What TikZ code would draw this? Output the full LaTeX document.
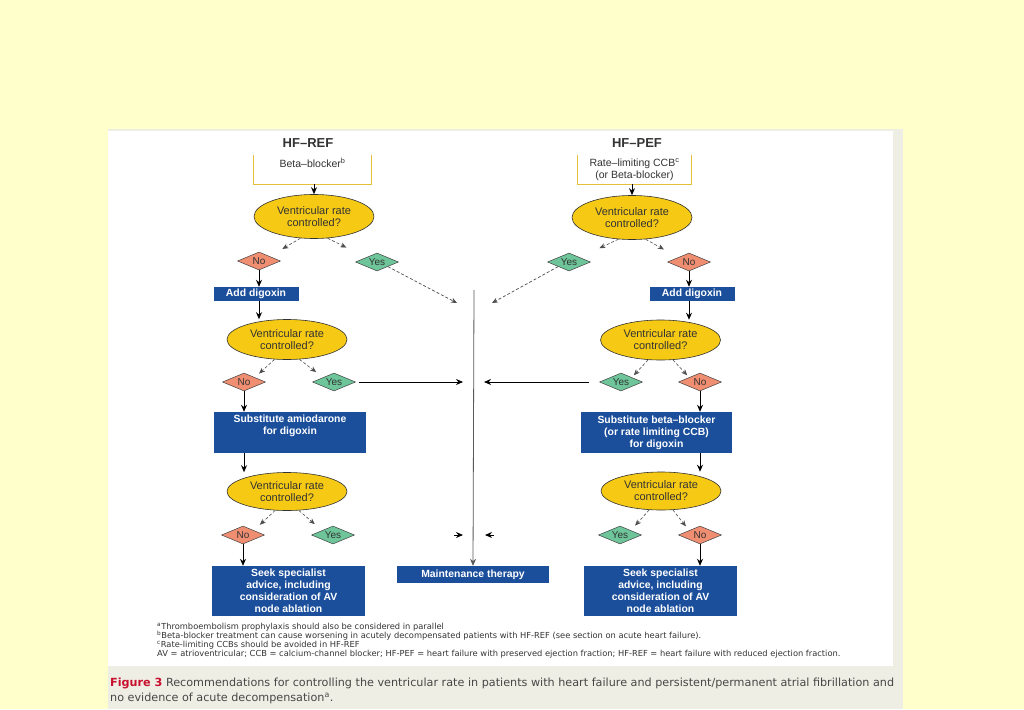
\documentclass[tikz,border=0pt]{standalone}
\usepackage{fontspec}
\setmainfont{Liberation Sans}
\newfontfamily\notefont{DejaVu Sans}
\usetikzlibrary{shapes.geometric,arrows.meta,calc}
\definecolor{bgyellow}{HTML}{FFFFCC}
\definecolor{panelgrey}{HTML}{EEEEE4}
\definecolor{ellfill}{HTML}{F6C915}
\definecolor{nofill}{HTML}{F08E72}
\definecolor{yesfill}{HTML}{6EC59A}
\definecolor{boxblue}{HTML}{1B4F9C}
\definecolor{boxgold}{HTML}{E3C13B}
\definecolor{txtdark}{HTML}{333333}
\definecolor{figred}{HTML}{C8102E}
\tikzset{
  ell/.style={ellipse, draw=black!80, line width=0.6pt, fill=ellfill, inner sep=0pt,
    minimum width=120pt, minimum height=42pt, align=center, text=txtdark,
    font=\fontsize{11}{12}\selectfont},
  dno/.style={diamond, draw=black!75, line width=0.5pt, fill=nofill, inner sep=0pt,
    minimum width=43pt, minimum height=18pt, text=txtdark, font=\fontsize{10}{12}\selectfont},
  dyes/.style={dno, fill=yesfill},
  bluebox/.style={rectangle, fill=boxblue, text=white, inner sep=0pt, align=center,
    font=\bfseries\fontsize{10.4}{12}\selectfont},
  openbox/.style={rectangle, inner sep=0pt, align=center, text=txtdark,
    font=\fontsize{10.5}{12}\selectfont},
  hdr/.style={font=\bfseries\fontsize{13}{15}\selectfont, text=txtdark},
  arr/.style={-{Stealth[length=7pt,width=6pt]}, line width=0.9pt, black},
  darr/.style={-{Stealth[length=6pt,width=5pt]}, line width=0.6pt, black!70, densely dashed},
  garr/.style={-{Stealth[length=7pt,width=6pt]}, line width=0.8pt, black!65},
  foot/.style={anchor=west, inner sep=0pt, text=txtdark, font=\notefont\fontsize{8.3}{9}\selectfont},
  capt/.style={anchor=west, inner sep=0pt, text=txtdark!90, font=\notefont\fontsize{11.2}{13}\selectfont},
}
\newcommand{\dlab}[1]{\makebox[0pt]{\raisebox{-0.36em}[0pt][0pt]{#1}}}
\begin{document}
\begin{tikzpicture}[x=1pt,y=-1pt]
\useasboundingbox (0,0) rectangle (1024,709);
\fill[bgyellow] (0,0) rectangle (1024,709);
\fill[panelgrey] (108,129) rectangle (903,709);
\fill[white] (108,131) rectangle (893,666);

% headers
\node[hdr] (hl) at (308,143) {HF--REF};
\node[hdr] (hr) at (637,143) {HF--PEF};

% top boxes (open at top)
\node[openbox, minimum width=117pt, minimum height=29pt] (bl) at (312.5,169.5) {};
\node[openbox, anchor=north] (blt) at (312.5,158) {Beta--blocker\textsuperscript{b}};
\draw[boxgold, line width=0.9pt] (bl.north west) -- (bl.south west) -- (bl.south east) -- (bl.north east);
\node[openbox, minimum width=113pt, minimum height=29pt] (br) at (634.5,169.5) {};
\node[openbox, anchor=north] (brt) at (634.5,158) {Rate--limiting CCB\textsuperscript{c}\\(or Beta-blocker)};
\draw[boxgold, line width=0.9pt] (br.north west) -- (br.south west) -- (br.south east) -- (br.north east);

% ellipses
\node[ell, minimum height=44pt] (e1l) at (314,216.5) {Ventricular rate\\controlled?};
\node[ell, minimum height=44pt] (e1r) at (632,217.5) {Ventricular rate\\controlled?};
\node[ell, minimum height=40pt] (e2l) at (287,339.5) {Ventricular rate\\controlled?};
\node[ell, minimum height=40pt] (e2r) at (660.5,340) {Ventricular rate\\controlled?};
\node[ell, minimum height=38pt] (e3l) at (287,491.5) {Ventricular rate\\controlled?};
\node[ell, minimum height=38pt] (e3r) at (661,491) {Ventricular rate\\controlled?};

% diamonds
\node[dno]  (n1l) at (259,261) {\dlab{No}};
\node[dyes] (y1l) at (377,262) {\dlab{Yes}};
\node[dyes] (y1r) at (569,262) {\dlab{Yes}};
\node[dno]  (n1r) at (689,262) {\dlab{No}};
\node[dno]  (n2l) at (244,382) {\dlab{No}};
\node[dyes] (y2l) at (334,382) {\dlab{Yes}};
\node[dyes] (y2r) at (621,382) {\dlab{Yes}};
\node[dno]  (n2r) at (700,382) {\dlab{No}};
\node[dno]  (n3l) at (243,535) {\dlab{No}};
\node[dyes] (y3l) at (333,535) {\dlab{Yes}};
\node[dyes] (y3r) at (620,535) {\dlab{Yes}};
\node[dno]  (n3r) at (700,535) {\dlab{No}};

% blue boxes
\node[bluebox, minimum width=85pt, minimum height=14pt] (adl) at (256,294) {Add digoxin};
\node[bluebox, minimum width=85pt, minimum height=14pt] (adr) at (692,294) {Add digoxin};
\node[bluebox, minimum width=152pt, minimum height=41pt] (sul) at (290,432.5) {Substitute amiodarone\\for digoxin\\\strut};
\node[bluebox, minimum width=151pt, minimum height=41pt] (sur) at (656.5,432.5) {Substitute beta--blocker\\(or rate limiting CCB)\\for digoxin};
\node[bluebox, minimum width=153pt, minimum height=50pt] (skl) at (288.5,591) {Seek specialist\\advice, including\\consideration of AV\\node ablation};
\node[bluebox, minimum width=153pt, minimum height=50pt] (skr) at (660.5,591) {Seek specialist\\advice, including\\consideration of AV\\node ablation};
\node[bluebox, minimum width=152pt, minimum height=17pt] (mt) at (473,574.5) {Maintenance therapy};

% coordinates near the centre line
\coordinate (ltop) at (474,290);
\coordinate (t1l) at (457,303);
\coordinate (t1r) at (492,303);
\coordinate (t2l) at (463,382);
\coordinate (t2r) at (484,382);
\coordinate (s3l) at (454,535);
\coordinate (t3l) at (463,535);
\coordinate (s3r) at (494,535);
\coordinate (t3r) at (485,535);

% main arrows
\draw[arr] (bl.south -| e1l.north) -- (e1l.north);
\draw[arr] (br.south -| e1r.north) -- (e1r.north);
\draw[arr] (n1l.south) -- (n1l.south |- adl.north);
\draw[arr] (n1r.south) -- (n1r.south |- adr.north);
\draw[arr] (adl.south -| n1l.south) -- (n1l.south |- e2l.north);
\draw[arr] (adr.south -| n1r.south) -- (n1r.south |- e2r.north);
\draw[arr] (n2l.south) -- (n2l.south |- sul.north);
\draw[arr] (n2r.south) -- (n2r.south |- sur.north);
\draw[arr] (sul.south -| n2l.south) -- (n2l.south |- e3l.north);
\draw[arr] (sur.south -| n2r.south) -- (n2r.south |- e3r.north);
\draw[arr] (n3l.south) -- (n3l.south |- skl.north);
\draw[arr] (n3r.south) -- (n3r.south |- skr.north);

% dashed short arrows from ellipses to diamonds
\foreach \e/\a/\b in {e1l/n1l/y1l, e1r/y1r/n1r, e2l/n2l/y2l, e2r/y2r/n2r, e3l/n3l/y3l, e3r/y3r/n3r}{
  \draw[darr] (\e.238) -- ($(\e.238)!21pt!(\a.north east)$);
  \draw[darr] (\e.302) -- ($(\e.302)!21pt!(\b.north west)$);
}

% yes arrows to centre
\draw[darr, line width=0.7pt] (y1l.south east) -- (t1l);
\draw[darr, line width=0.7pt] (y1r.south west) -- (t1r);
\draw[arr, line width=0.8pt, shorten <=3pt] (y2l.east) -- (t2l);
\draw[arr, line width=0.8pt, shorten <=10pt] (y2r.west) -- (t2r);
\draw[arr] (s3l) -- (t3l);
\draw[arr] (s3r) -- (t3r);
\draw[garr] (ltop) -- (mt.north);

% footnotes
\node[foot] (f1) at (157,627) {\textsuperscript{a}Thromboembolism prophylaxis should also be considered in parallel};
\node[foot] (f2) at (157,636) {\textsuperscript{b}Beta-blocker treatment can cause worsening in acutely decompensated patients with HF-REF (see section on acute heart failure).};
\node[foot] (f3) at (157,645) {\textsuperscript{c}Rate-limiting CCBs should be avoided in HF-REF};
\node[foot] (f4) at (157,654) {AV = atrioventricular; CCB = calcium-channel blocker; HF-PEF = heart failure with preserved ejection fraction; HF-REF = heart failure with reduced ejection fraction.};

% caption
\node[capt] (c1) at (110,683) {\textcolor{figred}{\textbf{Figure 3}} Recommendations for controlling the ventricular rate in patients with heart failure and persistent/permanent atrial fibrillation and};
\node[capt] (c2) at (110,698) {no evidence of acute decompensation\textsuperscript{a}.};
\end{tikzpicture}
\end{document}
